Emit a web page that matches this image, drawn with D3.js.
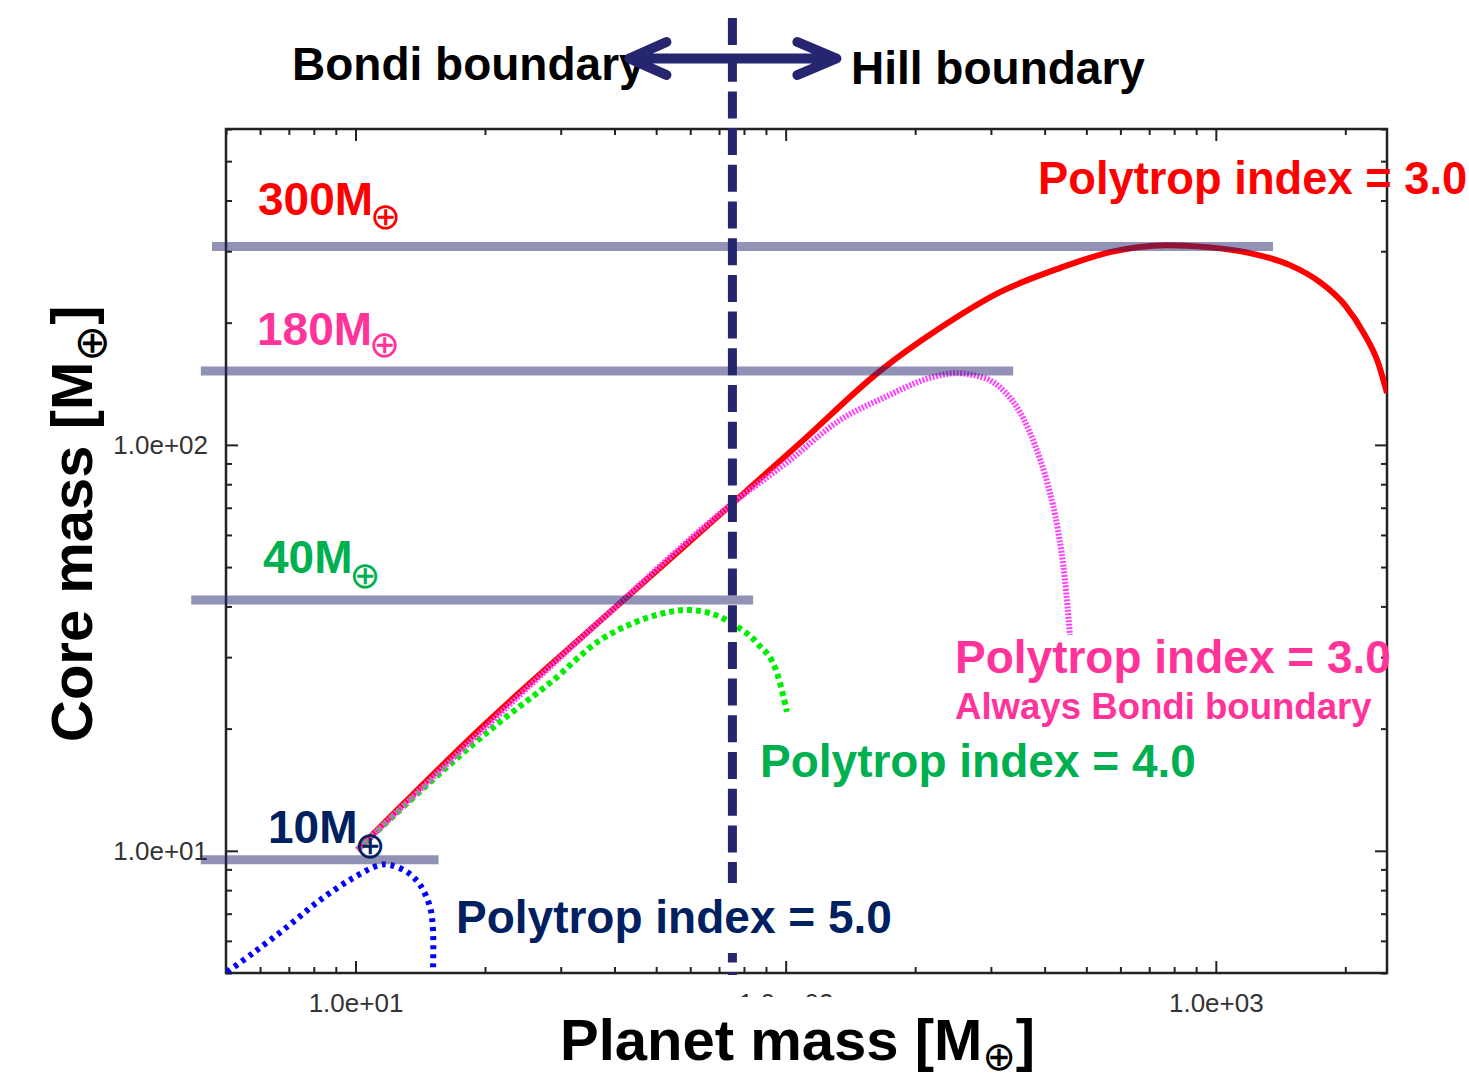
<!DOCTYPE html>
<html>
<head>
<meta charset="utf-8">
<script src="https://cdn.jsdelivr.net/npm/d3@7"></script>
<style>
body { margin: 0; background: #fff; }
svg { display: block; }
text { font-family: "Liberation Sans", Arial, Helvetica, sans-serif; }
</style>
</head>
<body>
<svg id="chart" width="1469" height="1079"></svg>
<script>
// planet mass (x) vs core mass (y), both in Earth masses
var n3Planet = [10.1, 20.5, 37.0, 75.4, 108.0, 165.6, 228.4, 314.9, 434.0, 567.5, 770, 954, 1200, 1487, 1746, 1996, 2221, 2381, 2500];
var n3Core   = [10.05, 21.0, 36.8, 71.9, 101.0, 152.0, 194.0, 237.8, 272.6, 298.5, 310.5, 307.0, 296.8, 277.2, 251.8, 221, 186.4, 159.9, 134.2];

var n3BondiPlanet = [10.1, 37.0, 75.4, 102.3, 133.7, 168.3, 220, 247.5, 290.6, 323.4, 350.5, 379.7, 407.1, 429.5, 446.0, 458];
var n3BondiCore   = [10.05, 36.8, 71.9, 91.7, 115.1, 130.4, 146.9, 150.2, 146.0, 134.9, 120.4, 99.9, 79.6, 61.7, 46.5, 34.0];

var n4Planet = [10.1, 21.7, 28.3, 37.0, 44.2, 51.0, 59.0, 66.7, 75.4, 85.8, 95.5, 100.7];
var n4Core   = [10.05, 20.8, 25.9, 33.0, 36.4, 38.3, 39.2, 38.5, 36.2, 32.5, 27.4, 22.0];

var n5Planet = [5.03, 5.78, 6.93, 8.27, 9.87, 11.40, 12.03, 13.17, 14.13, 14.90, 15.14, 15.14];
var n5Core   = [5.03, 5.60, 6.49, 7.56, 8.57, 9.23, 9.23, 8.87, 8.24, 7.27, 6.38, 5.03];

// maximum core mass levels (grey bars)
var levelNames = ["300", "180", "40", "10"];
var levelCore  = [308, 152, 41.5, 9.5];
var levelFrom  = [4.64, 4.37, 4.15, 4.37];
var levelTo    = [1358, 338, 84, 15.6];

var boundaryMass = 75.2;   // Bondi / Hill switch

var xDomain = [5, 2500], yDomain = [5, 600];
var xMajor = [10, 100, 1000], xTickLabels = ["1.0e+01", "1.0e+02", "1.0e+03"];
var yMajor = [10, 100], yTickLabels = ["1.0e+01", "1.0e+02"];

var plot = {left: 226, right: 1387, top: 129, bottom: 973};
var navy = "#262670";

var svg = d3.select("#chart");
svg.append("rect").attr("width", 1469).attr("height", 1079).attr("fill", "#fff");

var x = d3.scaleLog().domain(xDomain).range([plot.left, plot.right]);
var y = d3.scaleLog().domain(yDomain).range([plot.bottom, plot.top]);

function isMajor(v) { return Math.abs(Math.log10(v) - Math.round(Math.log10(v))) < 1e-9; }
var xMinor = x.ticks().filter(function(v) { return !isMajor(v); });
var yMinor = y.ticks().filter(function(v) { return !isMajor(v); });

function styleAxis(g) {
    g.select(".domain").remove();
    g.selectAll("line").attr("stroke", "#222").attr("stroke-width", 2);
    g.selectAll("text").attr("fill", "#333").style("font-size", "26px");
}

// bottom
svg.append("g").attr("transform", "translate(0," + plot.bottom + ")")
    .call(d3.axisBottom(x).tickValues(xMinor).tickSize(-6).tickFormat(""))
    .call(styleAxis);
svg.append("g").attr("transform", "translate(0," + plot.bottom + ")")
    .call(d3.axisBottom(x).tickValues(xMajor).tickSize(-12).tickPadding(21)
          .tickFormat(function(d, i) { return xTickLabels[i]; }))
    .call(styleAxis);
// top
svg.append("g").attr("transform", "translate(0," + plot.top + ")")
    .call(d3.axisTop(x).tickValues(xMinor).tickSize(-6).tickFormat(""))
    .call(styleAxis);
svg.append("g").attr("transform", "translate(0," + plot.top + ")")
    .call(d3.axisTop(x).tickValues(xMajor).tickSize(-12).tickFormat(""))
    .call(styleAxis);
// left
svg.append("g").attr("transform", "translate(" + plot.left + ",0)")
    .call(d3.axisLeft(y).tickValues(yMinor).tickSize(-6).tickFormat(""))
    .call(styleAxis);
svg.append("g").attr("transform", "translate(" + plot.left + ",0)")
    .call(d3.axisLeft(y).tickValues(yMajor).tickSize(-12).tickPadding(18)
          .tickFormat(function(d, i) { return yTickLabels[i]; }))
    .call(styleAxis);
// right
svg.append("g").attr("transform", "translate(" + plot.right + ",0)")
    .call(d3.axisRight(y).tickValues(yMinor).tickSize(-6).tickFormat(""))
    .call(styleAxis);
svg.append("g").attr("transform", "translate(" + plot.right + ",0)")
    .call(d3.axisRight(y).tickValues(yMajor).tickSize(-12).tickFormat(""))
    .call(styleAxis);

svg.append("rect")
    .attr("x", plot.left).attr("y", plot.top)
    .attr("width", plot.right - plot.left).attr("height", plot.bottom - plot.top)
    .attr("fill", "none").attr("stroke", "#222").attr("stroke-width", 2.5);

// curves
svg.append("clipPath").attr("id", "clip").append("rect")
    .attr("x", plot.left).attr("y", plot.top)
    .attr("width", plot.right - plot.left).attr("height", plot.bottom - plot.top);

function lineWith(curve) {
    return d3.line()
        .x(function(d) { return x(d[0]); })
        .y(function(d) { return y(d[1]); })
        .curve(curve);
}
var smooth = lineWith(d3.curveMonotoneX);
var loop = lineWith(d3.curveCatmullRom.alpha(0.5));

function drawCurve(px, cy, gen, color, width, dash) {
    svg.append("path")
        .datum(d3.zip(px, cy))
        .attr("clip-path", "url(#clip)")
        .attr("d", gen)
        .attr("fill", "none")
        .attr("stroke", color)
        .attr("stroke-width", width)
        .attr("stroke-dasharray", dash);
}
drawCurve(n3Planet, n3Core, smooth, "#ff0000", 6, null);
drawCurve(n4Planet, n4Core, smooth, "#00ee00", 6, "5,4");
drawCurve(n3BondiPlanet, n3BondiCore, smooth, "#ff44ff", 6, "2,1.5");
drawCurve(n5Planet, n5Core, loop, "#0000ff", 6, "4,5");

// grey level bars
svg.selectAll(".level")
    .data(levelCore)
    .enter().append("line")
    .attr("x1", function(d, i) { return x(levelFrom[i]); })
    .attr("x2", function(d, i) { return x(levelTo[i]); })
    .attr("y1", function(d) { return y(d); })
    .attr("y2", function(d) { return y(d); })
    .attr("stroke", navy).attr("stroke-opacity", 0.5)
    .attr("stroke-width", 9);

// Bondi / Hill dashed line and arrow
var bx = x(boundaryMass);
svg.append("line")
    .attr("x1", bx).attr("x2", bx).attr("y1", 18).attr("y2", plot.bottom + 2)
    .attr("stroke", navy).attr("stroke-width", 9)
    .attr("stroke-dasharray", "27,9.7");

function boldText(tx, ty, str, color, size) {
    return svg.append("text").attr("x", tx).attr("y", ty)
        .attr("fill", color).style("font-size", size + "px")
        .style("font-weight", "bold").text(str);
}
function earth(t, size, dy, dx) {
    return t.append("tspan").attr("dy", dy).attr("dx", dx || 0)
        .style("font-family", "DejaVu Sans").style("font-weight", "normal")
        .style("font-size", size + "px").text("\u2295");
}

boldText(292, 80, "Bondi boundary", "#000", 46);
boldText(851, 84, "Hill boundary", "#000", 46);

svg.append("path")
    .attr("d", "M" + (bx - 66) + ",42L" + (bx - 103) + ",58.5L" + (bx - 66) + ",75" +
               "M" + (bx - 103) + ",58.5H" + (bx + 104) +
               "M" + (bx + 65) + ",42L" + (bx + 104) + ",58.5L" + (bx + 65) + ",75")
    .attr("fill", "none").attr("stroke", navy).attr("stroke-width", 10)
    .attr("stroke-linecap", "round").attr("stroke-linejoin", "round");

// level labels
var levelColors = ["#ff0000", "#ff3399", "#00b050", "#002060"];
var levelLabelPos = [[258, 215], [257, 345], [263, 573], [268, 843]];
var levelSubDy = [14, 12, 15, 15];
levelNames.forEach(function(name, i) {
    var t = boldText(levelLabelPos[i][0], levelLabelPos[i][1], name + "M", levelColors[i], 46);
    earth(t, 37, levelSubDy[i], -3);
});

// curve labels
boldText(1038, 194, "Polytrop index = 3.0", "#ff0000", 45.3);
boldText(955, 673, "Polytrop index = 3.0", "#ff3399", 46);
boldText(955, 719, "Always Bondi boundary", "#ff3399", 36.6);
boldText(760, 777, "Polytrop index = 4.0", "#00b050", 46);
svg.append("rect").attr("x", 448).attr("y", 883).attr("width", 448).attr("height", 70).attr("fill", "#fff");
boldText(456, 933, "Polytrop index = 5.0", "#002060", 46);

// axis titles
svg.append("rect").attr("x", 552).attr("y", 997).attr("width", 495).attr("height", 82).attr("fill", "#fff");
var xt = boldText(560, 1060, "Planet mass [M", "#000", 58);
earth(xt, 40, 10);
xt.append("tspan").attr("dy", -10).text("]");

var yt = boldText(0, 0, "Core mass [M", "#000", 58)
    .attr("transform", "translate(92,742) rotate(-90)");
earth(yt, 44, 14);
yt.append("tspan").attr("dy", -14).text("]");
</script>
</body>
</html>
